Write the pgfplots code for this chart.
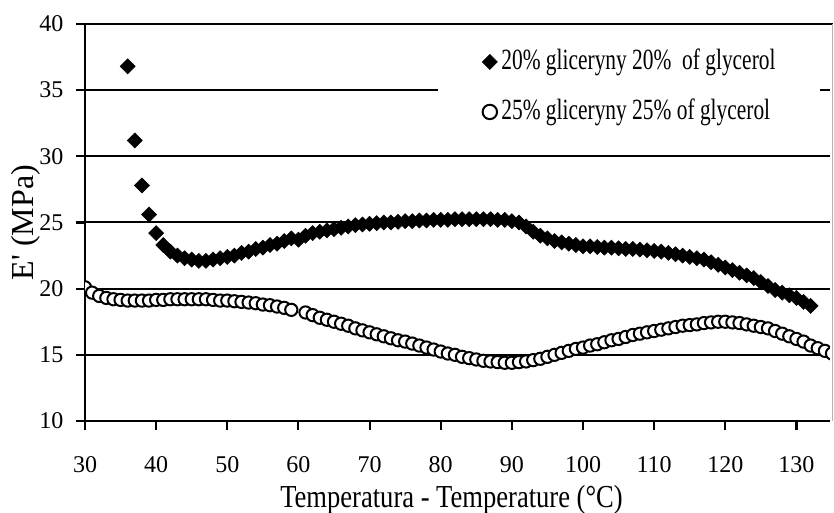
\documentclass[border=0pt]{standalone}
\usepackage{pgfplots}
\pgfplotsset{compat=1.18}
\usepackage{pgfplotstable}
\usepackage{fontspec}
\setmainfont{Liberation Serif}
\newfontfamily\condfont[FakeStretch=0.83]{Liberation Serif}
\newfontfamily\legfont[FakeStretch=0.73]{Liberation Serif}
\pgfplotsset{singlemark legend/.style={legend image code/.code={\draw[##1] plot coordinates {(0pt,0pt)};}},
  bigcircle legend/.style={legend image code/.code={\draw[##1, mark size=5.4pt] plot coordinates {(0pt,0pt)};}}}

\pgfplotstableread{
x y
36 36.8
37 31.2
38 27.8
39 25.6
40 24.2
41 23.3
42 22.8
43 22.5
44 22.3
45 22.2
46 22.1
47 22.1
48 22.2
49 22.3
50 22.4
51 22.5
52 22.7
53 22.8
54 23.0
55 23.1
56 23.3
57 23.4
58 23.6
59 23.8
60 23.7
61 24.0
62 24.2
63 24.3
64 24.4
65 24.5
66 24.6
67 24.7
68 24.8
69 24.85
70 24.9
71 24.95
72 25.0
73 25.0
74 25.05
75 25.1
76 25.1
77 25.15
78 25.15
79 25.2
80 25.2
81 25.2
82 25.25
83 25.25
84 25.25
85 25.25
86 25.25
87 25.25
88 25.2
89 25.2
90 25.1
91 25.0
92 24.7
93 24.3
94 24.0
95 23.8
96 23.6
97 23.5
98 23.4
99 23.3
100 23.2
101 23.2
102 23.15
103 23.1
104 23.1
105 23.05
106 23.0
107 23.0
108 22.95
109 22.9
110 22.85
111 22.8
112 22.7
113 22.6
114 22.5
115 22.4
116 22.3
117 22.2
118 22.0
119 21.8
120 21.6
121 21.4
122 21.2
123 21.0
124 20.8
125 20.5
126 20.2
127 19.9
128 19.7
129 19.5
130 19.3
131 19.0
132 18.7
}\gA

\pgfplotstableread{
x y
30 20.1
31 19.7
32 19.45
33 19.3
34 19.2
35 19.15
36 19.1
37 19.1
38 19.1
39 19.1
40 19.15
41 19.15
42 19.2
43 19.2
44 19.2
45 19.2
46 19.2
47 19.2
48 19.15
49 19.1
50 19.1
51 19.05
52 19.0
53 18.95
54 18.9
55 18.8
56 18.75
57 18.65
58 18.55
59 18.4
61 18.2
62 18.0
63 17.8
64 17.65
65 17.5
66 17.35
67 17.2
68 17.0
69 16.85
70 16.7
71 16.55
72 16.4
73 16.25
74 16.1
75 16.0
76 15.85
77 15.7
78 15.55
79 15.4
80 15.25
81 15.1
82 15.0
83 14.85
84 14.75
85 14.65
86 14.55
87 14.5
88 14.45
89 14.4
90 14.4
91 14.45
92 14.5
93 14.6
94 14.7
95 14.85
96 15.0
97 15.15
98 15.3
99 15.45
100 15.55
101 15.7
102 15.8
103 15.95
104 16.1
105 16.2
106 16.35
107 16.5
108 16.6
109 16.7
110 16.8
111 16.9
112 17.0
113 17.1
114 17.2
115 17.25
116 17.3
117 17.4
118 17.45
119 17.5
120 17.5
121 17.45
122 17.4
123 17.3
124 17.2
125 17.1
126 17.0
127 16.8
128 16.6
129 16.4
130 16.2
131 16.0
132 15.7
133 15.5
134 15.3
135 15.1
}\gB

\begin{document}
\begin{tikzpicture}
\useasboundingbox (-63.75pt,-69pt) rectangle (561.75pt,315.75pt);
\begin{axis}[
  at={(0pt,0pt)}, anchor=south west,
  scale only axis, width=560.25pt, height=297.75pt,
  xmin=30, xmax=135, ymin=10, ymax=40,
  xtick={30,40,...,130}, ytick={10,15,...,40},
  axis line style={line width=1.5pt},
  xtick pos=left, ytick pos=left,
  tick align=outside,
  every tick/.style={black, line width=1.5pt},
  major tick length=6.5pt,
  ymajorgrids, grid style={line width=1.5pt, black},
  clip marker paths=true,
  /pgf/number format/assume math mode=true,
  ticklabel style={font=\fontsize{18}{18}\selectfont},
  xticklabel style={anchor=north, inner sep=0pt, yshift=-20pt},
  yticklabel style={anchor=east, inner sep=0pt, xshift=-9.5pt},
  xlabel={\condfont Temperatura - Temperature (°C)},
  xlabel style={at={(axis description cs:0.4906,-0.2191)}, anchor=base, font=\fontsize{24}{24}\selectfont},
  ylabel={E\textquotesingle\ (MPa)},
  ylabel style={at={(axis description cs:-0.0696,0.5)}, anchor=base, font=\fontsize{24}{24}\selectfont},
  legend cell align=left,
  legend style={at={(rel axis cs:0.4726,0.984)}, anchor=north west, draw=none, fill=white,
    inner xsep=33pt, inner ysep=13pt, row sep=16.5pt,
    font=\fontsize{22}{22}\selectfont\legfont,
    nodes={inner sep=0pt, text height=16pt, text depth=5pt},
    /tikz/every odd column/.append style={column sep=3pt}},
]
\addplot[only marks, mark=square*, mark size=4.0pt,
  mark options={rotate=45, fill=black, draw=black, line width=0.4pt},
  singlemark legend] table {\gA};
\addlegendentry{20\% gliceryny 20\%\ \ of glycerol}
\addplot[only marks, mark=*, mark size=4.6pt,
  mark options={fill=white, draw=black, line width=1.5pt},
  bigcircle legend] table {\gB};
\addlegendentry{25\% gliceryny 25\% of glycerol}
\end{axis}
\draw[white, line width=2.4pt] (560.25pt,-0.8pt) -- (560.25pt,296.9pt);
\draw[gray!60, line width=0.6pt] (560.25pt,0pt) -- (560.25pt,297.75pt);
\foreach \i in {0,...,10} {\draw[black, line width=1.6pt] (\i*53.357pt,0pt) -- (\i*53.357pt,-6.8pt);}
\foreach \j in {0,...,6} {\draw[black, line width=1.6pt] (0pt,\j*49.625pt) -- (-6.8pt,\j*49.625pt);}
\end{tikzpicture}
\end{document}
